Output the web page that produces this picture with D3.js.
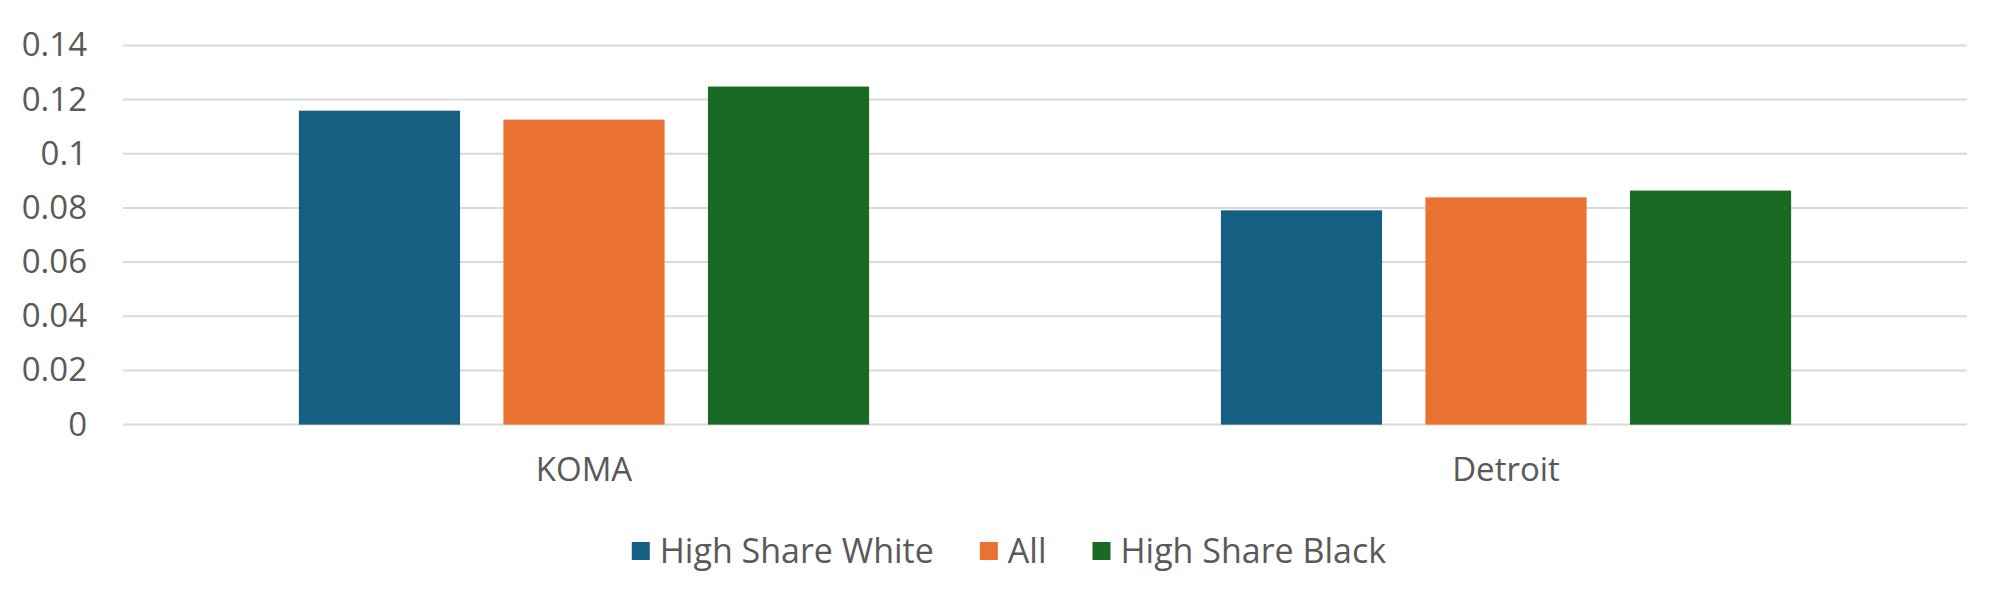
<!DOCTYPE html>
<html>
<head>
<meta charset="utf-8">
<script src="https://cdn.jsdelivr.net/npm/d3@7"></script>
<style>
  html, body { margin: 0; padding: 0; background: #ffffff; }
  svg { display: block; }
  text { font-family: "Open Sans", "Liberation Sans", Arial, sans-serif; fill: #595959; }
</style>
</head>
<body>
<svg id="chart" width="2000" height="591"></svg>
<script>
// Categories, series and values
const categories = ["KOMA", "Detroit"];
const seriesNames = ["High Share White", "All", "High Share Black"];
const highShareWhite = [0.1159, 0.0791];
const allValues = [0.1126, 0.0839];
const highShareBlack = [0.1248, 0.0864];
const yTicks = [0, 0.02, 0.04, 0.06, 0.08, 0.1, 0.12, 0.14];
const seriesColors = ["#156082", "#E97132", "#196B24"];

const seriesValues = [highShareWhite, allValues, highShareBlack];
const rows = categories.map((c, i) => ({
  category: c,
  values: seriesNames.map((s, j) => ({ series: s, value: seriesValues[j][i] }))
}));

const svg = d3.select("#chart");
const plot = { left: 123, right: 1967, top: 45.4, bottom: 424.6 };
const fontStack = "\"Open Sans\", \"Liberation Sans\", Arial, sans-serif";

const x0 = d3.scaleBand().domain(categories).range([plot.left, plot.right]).padding(0);
const x1 = d3.scaleBand().domain(seriesNames).range([0, x0.bandwidth()])
  .paddingInner(0.212).paddingOuter(0.86);
const y = d3.scaleLinear().domain([0, 0.14]).range([plot.bottom, plot.top]);
const color = d3.scaleOrdinal().domain(seriesNames).range(seriesColors);

// Horizontal gridlines
svg.append("g")
  .selectAll("line")
  .data(yTicks)
  .join("line")
  .attr("x1", plot.left).attr("x2", plot.right)
  .attr("y1", d => y(d)).attr("y2", d => y(d))
  .attr("stroke", "#d9d9d9").attr("stroke-width", 2);

// Y axis labels
const yAxis = d3.axisLeft(y).tickValues(yTicks).tickFormat(d => String(+d.toFixed(2))).tickSize(0).tickPadding(0);
const yg = svg.append("g").attr("transform", "translate(87,0)").call(yAxis);
yg.select(".domain").remove();
yg.selectAll("text").attr("font-size", 33).attr("fill", "#595959")
  .style("font-family", fontStack);

// Bars
const groups = svg.append("g")
  .selectAll("g")
  .data(rows)
  .join("g")
  .attr("transform", d => `translate(${x0(d.category)},0)`);

groups.selectAll("rect")
  .data(d => d.values)
  .join("rect")
  .attr("x", d => x1(d.series))
  .attr("width", x1.bandwidth())
  .attr("y", d => y(d.value))
  .attr("height", d => y(0) - y(d.value))
  .attr("fill", d => color(d.series));

// X axis category labels
const xAxis = d3.axisBottom(x0).tickSize(0).tickPadding(0);
const xg = svg.append("g").attr("transform", "translate(0,470)").call(xAxis);
xg.select(".domain").remove();
xg.selectAll("text").attr("font-size", 33).attr("fill", "#595959").attr("dy", "0.32em")
  .style("font-family", fontStack);

// Legend
const legend = svg.append("g");
const items = legend.selectAll("g")
  .data(seriesNames)
  .join("g");
items.append("rect")
  .attr("width", 18).attr("height", 18)
  .attr("y", -9)
  .attr("fill", d => color(d));
items.append("text")
  .attr("x", 28)
  .attr("dy", "0.36em")
  .attr("font-size", 34)
  .text(d => d);

let offset = 0;
const itemGap = 46;
items.each(function () {
  const g = d3.select(this);
  g.attr("transform", `translate(${offset},0)`);
  offset += this.getBBox().width + itemGap;
});
const legendWidth = offset - itemGap;
legend.attr("transform", `translate(${1009 - legendWidth / 2},551)`);
</script>
</body>
</html>
